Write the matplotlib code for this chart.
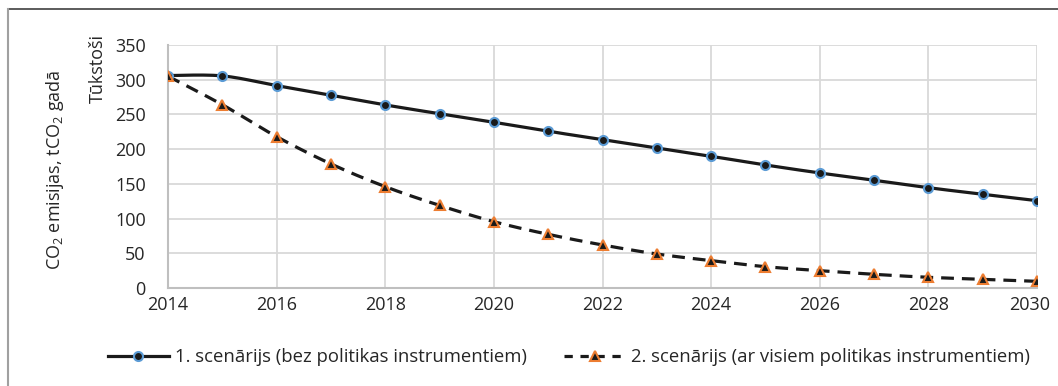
import matplotlib
matplotlib.use('Agg')
import matplotlib.pyplot as plt
import matplotlib.transforms as mtransforms
from matplotlib.lines import Line2D
import numpy as np

plt.rcParams['font.family'] = ['Open Sans', 'DejaVu Sans']
plt.rcParams['mathtext.default'] = 'regular'

years = list(range(2014, 2031))
scenario1 = [306, 305.5, 291.5, 277.6, 263.7, 251, 238.7, 225.8, 213.7, 201.7,
             189.7, 177.2, 165.7, 155.2, 144.5, 135, 125.8]
scenario2 = [305, 264, 218, 178.7, 146, 119, 95.5, 77.3, 62, 49,
             39.4, 30.7, 25, 19.7, 15.4, 12.5, 9.6]
labels = ['1. scenārijs (bez politikas instrumentiem)',
          '2. scenārijs (ar visiem politikas instrumentiem)']


def smooth(x, y, n=20):
    # Catmull-Rom curve through the points (spreadsheet style smoothed line)
    x = np.asarray(x, float)
    y = np.asarray(y, float)
    px = np.concatenate([[x[0]], x, [x[-1]]])
    py = np.concatenate([[y[0]], y, [y[-1]]])
    xs, ys = [], []
    for i in range(1, len(px) - 2):
        p0, p1, p2, p3 = (np.array([px[j], py[j]]) for j in (i - 1, i, i + 1, i + 2))
        c1 = p1 + (p2 - p0) / 6
        c2 = p2 - (p3 - p1) / 6
        t = np.linspace(0, 1, n)[:, None]
        b = ((1 - t) ** 3) * p1 + 3 * ((1 - t) ** 2) * t * c1 + 3 * (1 - t) * t ** 2 * c2 + t ** 3 * p2
        xs.extend(b[:, 0])
        ys.extend(b[:, 1])
    return xs, ys


fig = plt.figure(figsize=(10.58, 3.86), dpi=100)
ax = fig.add_axes([168 / 1058, 1 - 288 / 386, (1037 - 168) / 1058, (288 - 45) / 386])

lw = 2.3
fs = 13
sx, sy = smooth(years, scenario1)
ax.plot(sx, sy, color='#1a1a1a', lw=lw, zorder=3)
ax.plot(years, scenario1, ls='none', marker='o', ms=6.5, mfc='#1a1a1a',
        mec='#5b9bd5', mew=1.5, zorder=4)
sx, sy = smooth(years, scenario2)
ax.plot(sx, sy, color='#1a1a1a', lw=lw, dashes=(4.0, 2.5), zorder=3)
ax.plot(years, scenario2, ls='none', marker='^', ms=7.5, mfc='#1a1a1a',
        mec='#ed7d31', mew=1.5, zorder=4)

ax.set_xlim(2014, 2030)
ax.set_ylim(0, 350)
ax.set_xticks(range(2014, 2031, 2))
ax.set_yticks(range(0, 351, 50))
ax.grid(True, color='#d9d9d9', lw=1.3)
ax.set_axisbelow(True)
ax.tick_params(length=0, labelsize=fs, colors='#262626', pad=6)
ax.tick_params(axis='y', pad=16)
for s in ['top', 'right']:
    ax.spines[s].set_visible(False)
for s in ['left', 'bottom']:
    ax.spines[s].set_color('#bfbfbf')
    ax.spines[s].set_linewidth(1.5)

# keep the last year label inside the frame
last = ax.get_xticklabels()[-1]
last.set_transform(last.get_transform() +
                   mtransforms.ScaledTranslation(-7 / 100, 0, fig.dpi_scale_trans))

fig.text(98 / 1058, 1 - 34 / 386, 'Tūkstoši', rotation=90, ha='center', va='top',
         fontsize=fs, color='#262626')
fig.text(55 / 1058, 1 - 170 / 386, 'CO$_2$ emisijas, tCO$_2$ gadā', rotation=90,
         ha='center', va='center', fontsize=fs, color='#262626')

handles = [
    Line2D([], [], color='#1a1a1a', lw=lw, marker='o', ms=6.5, mfc='#1a1a1a',
           mec='#5b9bd5', mew=1.5),
    Line2D([], [], color='#1a1a1a', lw=lw, dashes=(2.6, 2.4), marker='^', ms=7.5,
           mfc='#1a1a1a', mec='#ed7d31', mew=1.5),
]
fig.legend(handles, labels, loc='center', bbox_to_anchor=(569 / 1058, 1 - 357 / 386),
           ncol=2, frameon=False, fontsize=13.3, handlelength=3.3, handletextpad=0.33,
           columnspacing=2.05, labelcolor='#262626')

# outer frame
fig.add_artist(Line2D([8 / 1058, 1], [1 - 9 / 386, 1 - 9 / 386],
                      transform=fig.transFigure, color='#404040', lw=1.2))
fig.add_artist(Line2D([8 / 1058, 8 / 1058], [0, 1 - 9 / 386],
                      transform=fig.transFigure, color='#a0a0a0', lw=1.5))

fig.savefig('out.png', dpi=100)
